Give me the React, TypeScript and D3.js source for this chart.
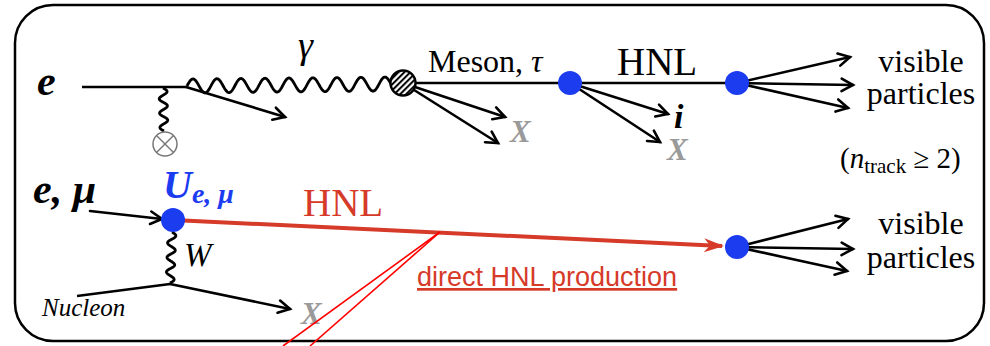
import React, { FC, useMemo } from "react";
import * as d3 from "d3";

const W = 990;
const H = 346;

// frame of the diagram
const frame = { x0: 15, y0: 5, x1: 984, y1: 341, r: 38 };

// straight fermion / meson lines [x1, y1, x2, y2]
const plainLines = [
    [82, 87, 186, 87], // incoming e
    [403, 83, 570, 83], // meson, tau
    [570, 83, 737, 83], // HNL (top)
    [77, 296, 170, 284], // nucleon in
];

// lines ending with an open arrow head
const arrowLines = [
    [186, 87, 285, 117],
    [403, 83, 505, 117],
    [403, 83, 498, 143],
    [570, 83, 668, 114],
    [570, 83, 660, 142],
    [737, 83, 850, 57],
    [737, 83, 853, 85],
    [737, 83, 848, 108],
    [90, 211, 162, 219],
    [170, 284, 290, 309],
    [737, 247, 848, 219],
    [737, 247, 853, 249],
    [737, 247, 847, 271],
];

// wavy boson lines [x1, y1, x2, y2, amplitude, wavelength]
const wavyLines = [
    [187, 86, 391, 84, 7, 23.5], // photon
    [163, 88, 164, 131, 4, 15], // nuclear field
    [172, 232, 170, 283, 4, 15], // W
];

// blue vertices
const blueDots = [
    [570, 83],
    [737, 83],
    [173, 220],
    [737, 247],
];

// red HNL arrow (direct production)
const hnlArrow = [173, 220, 722, 246];

// thin red pointer lines to the label
const pointerLines = [
    [440, 232, 283, 346],
    [440, 232, 310, 346],
];

const serif = "Liberation Serif";
const blue = "#1c3cf0";
const red = "#d63a29";
const gray = "#9a9a9a";

const arrowHead = (x1: number, y1: number, x2: number, y2: number, len = 13, ang = 0.5) => {
    const a = Math.atan2(y2 - y1, x2 - x1);
    const p = d3.path();
    p.moveTo(x2 - len * Math.cos(a - ang), y2 - len * Math.sin(a - ang));
    p.lineTo(x2, y2);
    p.lineTo(x2 - len * Math.cos(a + ang), y2 - len * Math.sin(a + ang));
    return p.toString();
};

const wavy = (x1: number, y1: number, x2: number, y2: number, amp: number, wl: number) => {
    const dx = x2 - x1;
    const dy = y2 - y1;
    const L = Math.hypot(dx, dy);
    const ux = dx / L;
    const uy = dy / L;
    const n = Math.max(1, Math.round((2 * L) / wl)) / 2;
    const pts: [number, number][] = d3.range(0, 301).map((i: number) => {
        const t = i / 300;
        const off = -amp * Math.sin(t * n * 2 * Math.PI);
        return [x1 + dx * t - uy * off, y1 + dy * t + ux * off];
    });
    return d3.line()(pts);
};

const App: FC = () => {
    const x = useMemo(() => d3.scaleLinear([0, W], [0, W]), []);
    const y = useMemo(() => d3.scaleLinear([0, H], [0, H]), []);

    const line = (l: number[]) => d3.line()([[x(l[0]), y(l[1])], [x(l[2]), y(l[3])]]);

    const txt = (extra: any = {}) => ({ fontFamily: serif, ...extra });

    return (
        <svg
            width={W}
            height={H}
            style={{ position: "absolute", top: 0, left: 0, background: "#fff" }}
        >
            <defs>
                <pattern
                    id="hatch"
                    width={4.2}
                    height={4.2}
                    patternUnits="userSpaceOnUse"
                    patternTransform="rotate(45)"
                >
                    <rect width={4.2} height={4.2} fill="#fff" />
                    <line x1={1} y1={0} x2={1} y2={4.2} stroke="#000" strokeWidth={2} />
                </pattern>
            </defs>

            {/* frame */}
            <rect
                x={frame.x0}
                y={frame.y0}
                width={frame.x1 - frame.x0}
                height={frame.y1 - frame.y0}
                rx={frame.r}
                fill="none"
                stroke="#000"
                strokeWidth={2.5}
            />

            {/* straight lines */}
            {plainLines.map((l, i) => (
                <path key={`pl${i}`} d={line(l) as string} stroke="#000" strokeWidth={2.6} fill="none" />
            ))}

            {/* arrows */}
            {arrowLines.map((l, i) => (
                <g key={`al${i}`} stroke="#000" strokeWidth={2.6} fill="none" strokeLinecap="round">
                    <path d={line(l) as string} />
                    <path d={arrowHead(x(l[0]), y(l[1]), x(l[2]), y(l[3]))} strokeLinejoin="miter" />
                </g>
            ))}

            {/* wavy lines */}
            {wavyLines.map((l, i) => (
                <path
                    key={`wl${i}`}
                    d={wavy(x(l[0]), y(l[1]), x(l[2]), y(l[3]), l[4], l[5]) as string}
                    stroke="#000"
                    strokeWidth={2.8}
                    fill="none"
                    strokeLinejoin="round"
                />
            ))}

            {/* nucleus field source */}
            <g stroke="#777" strokeWidth={1.5} fill="#fff">
                <circle cx={x(165)} cy={y(144)} r={12} />
                <line x1={x(165) - 8.5} y1={y(144) - 8.5} x2={x(165) + 8.5} y2={y(144) + 8.5} />
                <line x1={x(165) - 8.5} y1={y(144) + 8.5} x2={x(165) + 8.5} y2={y(144) - 8.5} />
            </g>

            {/* hatched meson production blob */}
            <circle cx={x(403)} cy={y(83)} r={12.5} fill="url(#hatch)" stroke="#000" strokeWidth={2.4} />

            {/* red HNL line */}
            <path d={line(hnlArrow) as string} stroke={red} strokeWidth={4} fill="none" />
            <path
                d={(() => {
                    const [x1, y1, x2, y2] = hnlArrow;
                    const a = Math.atan2(y2 - y1, x2 - x1);
                    const p = d3.path();
                    const tx = x(x2) + 2;
                    const ty = y(y2) + 2 * Math.tan(a);
                    p.moveTo(tx, ty);
                    p.lineTo(tx - 20 * Math.cos(a) + 7 * Math.sin(a), ty - 20 * Math.sin(a) - 7 * Math.cos(a));
                    p.lineTo(tx - 14 * Math.cos(a), ty - 14 * Math.sin(a));
                    p.lineTo(tx - 20 * Math.cos(a) - 7 * Math.sin(a), ty - 20 * Math.sin(a) + 7 * Math.cos(a));
                    p.closePath();
                    return p.toString();
                })()}
                fill={red}
            />

            {/* blue vertices */}
            {blueDots.map((d, i) => (
                <circle key={`bd${i}`} cx={x(d[0])} cy={y(d[1])} r={12} fill={blue} />
            ))}

            {/* labels top */}
            <text x={37} y={95} style={txt({ fontSize: 42, fontStyle: "italic", fontWeight: "bold" })}>e</text>
            <text x={298} y={58} style={txt({ fontSize: 38, fontStyle: "italic" })}>γ</text>
            <text x={428} y={72} style={txt({ fontSize: 32 })}>Meson, <tspan style={{ fontStyle: "italic" }}>τ</tspan></text>
            <text x={617} y={75} style={txt({ fontSize: 39 })}>HNL</text>
            <text x={510} y={142} style={txt({ fontSize: 31, fontStyle: "italic", fontWeight: "bold", fill: gray })}>X</text>
            <text x={674} y={128} style={txt({ fontSize: 34, fontStyle: "italic", fontWeight: "bold" })}>i</text>
            <text x={667} y={160} style={txt({ fontSize: 31, fontStyle: "italic", fontWeight: "bold", fill: gray })}>X</text>
            <text x={921} y={72} textAnchor="middle" style={txt({ fontSize: 32 })}>visible</text>
            <text x={921} y={104} textAnchor="middle" style={txt({ fontSize: 32 })}>particles</text>
            <text x={840} y={168} style={txt({ fontSize: 29 })}>
                (<tspan style={{ fontStyle: "italic" }}>n</tspan>
                <tspan fontSize={21} dy={5}>track</tspan>
                <tspan dy={-5}> ≥ 2)</tspan>
            </text>

            {/* labels bottom */}
            <text x={33} y={203} style={txt({ fontSize: 42, fontStyle: "italic", fontWeight: "bold" })}>e, μ</text>
            <text x={163} y={198} style={txt({ fontSize: 40, fontStyle: "italic", fontWeight: "bold", fill: blue })}>
                U<tspan fontSize={28} dy={5}>e, μ</tspan>
            </text>
            <text x={303} y={216} style={txt({ fontSize: 39, fill: red })}>HNL</text>
            <text x={184} y={266} style={txt({ fontSize: 33, fontStyle: "italic" })}>W</text>
            <text x={42} y={316} style={txt({ fontSize: 25, fontStyle: "italic" })}>Nucleon</text>
            <text x={301} y={324} style={txt({ fontSize: 31, fontStyle: "italic", fontWeight: "bold", fill: gray })}>X</text>
            <text
                x={417}
                y={286}
                fontFamily="Liberation Sans"
                fontSize={27}
                fill={red}
                textDecoration="underline"
            >
                direct HNL production
            </text>
            <text x={921} y={234} textAnchor="middle" style={txt({ fontSize: 32 })}>visible</text>
            <text x={921} y={268} textAnchor="middle" style={txt({ fontSize: 32 })}>particles</text>

            {/* red pointer lines */}
            {pointerLines.map((l, i) => (
                <path key={`rl${i}`} d={line(l) as string} stroke="#ff0000" strokeWidth={1.6} fill="none" />
            ))}
        </svg>
    );
};

export default App;
